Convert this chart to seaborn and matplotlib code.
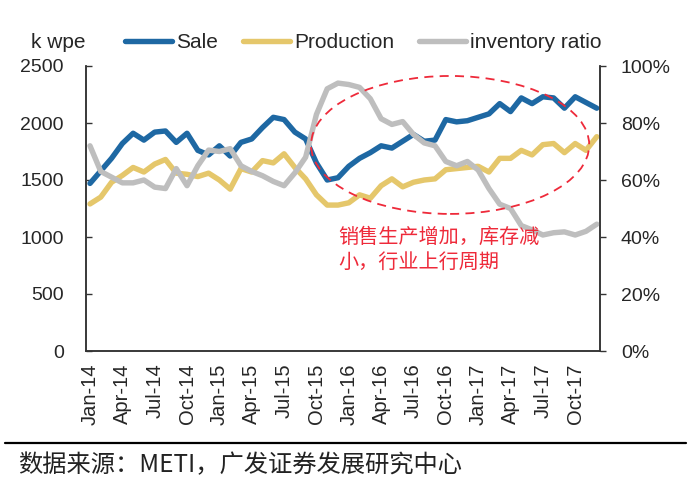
import matplotlib
matplotlib.use("Agg")
import matplotlib.pyplot as plt
from matplotlib.patches import Ellipse
from matplotlib.lines import Line2D
from matplotlib.ticker import FuncFormatter
import seaborn as sns
import pandas as pd

# monthly data, Jan-14 .. Dec-17
sale = [1470, 1580, 1690, 1820, 1910, 1850, 1920, 1930, 1830, 1910, 1760, 1720,
        1800, 1710, 1830, 1860, 1960, 2050, 2030, 1920, 1860, 1650, 1500, 1520,
        1620, 1690, 1740, 1800, 1780, 1840, 1900, 1840, 1850, 2030, 2010, 2020,
        2050, 2080, 2170, 2100, 2220, 2170, 2230, 2220, 2130, 2230, 2180, 2130]
production = [1290, 1350, 1480, 1540, 1610, 1570, 1640, 1680, 1560, 1550, 1530, 1560,
              1500, 1420, 1600, 1570, 1670, 1650, 1730, 1610, 1510, 1370, 1280, 1280,
              1300, 1370, 1340, 1450, 1510, 1440, 1480, 1500, 1510, 1590, 1600, 1610,
              1620, 1570, 1690, 1690, 1760, 1720, 1810, 1820, 1740, 1820, 1760, 1880]
inventory_ratio = [72, 63, 61, 59, 59, 60, 57.5, 57, 64, 58, 65, 70.5,
                   70, 71, 65, 63, 61.5, 59.5, 58, 62.5, 68, 83, 92, 94,
                   93.5, 92.5, 88.5, 81.5, 79.5, 80.5, 76, 73, 72, 66.5, 65, 66.5,
                   63.5, 57, 51.5, 50, 44, 42.5, 40.7, 41.5, 41.8, 40.7, 42, 44.5]
tick_labels = ["Jan-14", "Apr-14", "Jul-14", "Oct-14", "Jan-15", "Apr-15", "Jul-15", "Oct-15",
               "Jan-16", "Apr-16", "Jul-16", "Oct-16", "Jan-17", "Apr-17", "Jul-17", "Oct-17"]
series_names = ["Sale", "Production", "inventory ratio"]
colors = ["#1E68A3", "#E5C76B", "#BEBEBE"]

df = pd.DataFrame({"month": range(len(sale)), "sale": sale,
                   "production": production, "ratio": inventory_ratio})

sns.set_style("white")
plt.rcParams["font.family"] = ["Liberation Sans", "DejaVu Sans"]

W, H = 691, 479
fig = plt.figure(figsize=(W / 100, H / 100), dpi=100)
ax = fig.add_axes([86 / W, 1 - 351 / H, (600 - 86) / W, (351 - 66) / H])
ax2 = ax.twinx()

lw = 3.9
sns.lineplot(data=df, x="month", y="sale", ax=ax, color=colors[0], lw=lw,
             label=series_names[0], legend=False)
sns.lineplot(data=df, x="month", y="production", ax=ax, color=colors[1], lw=lw,
             label=series_names[1], legend=False)
sns.lineplot(data=df, x="month", y="ratio", ax=ax2, color=colors[2], lw=lw,
             label=series_names[2], legend=False)

ax.set_xlim(-0.37, 47.3)
ax.set_ylim(0, 2500)
ax2.set_ylim(0, 100)
ax.set_yticks(range(0, 2501, 500))
ax2.set_yticks(range(0, 101, 20))
ax2.yaxis.set_major_formatter(FuncFormatter(lambda v, p: f"{v:.0f}%"))
ax.set_xticks(range(0, 48, 3))
ax.set_xticklabels(tick_labels, rotation=90)
ax.set_xlabel("")
ax.set_ylabel("")
ax2.set_ylabel("")

spine_col = "#333333"
for a in (ax, ax2):
    a.spines["top"].set_visible(False)
    for s in ("left", "right", "bottom"):
        a.spines[s].set_color(spine_col)
        a.spines[s].set_linewidth(1.1)
ax.tick_params(axis="y", direction="in", length=4, width=1, pad=16, labelsize=14,
               color=spine_col, left=True)
ax2.tick_params(axis="y", direction="out", length=4, width=1, pad=11, labelsize=14,
                color=spine_col, right=True)
ax.tick_params(axis="x", length=0, pad=9, labelsize=14.5)

# legend
handles, labels = ax.get_legend_handles_labels()
h2, l2 = ax2.get_legend_handles_labels()
handles += h2
labels += l2
fig.legend(handles, labels, loc="center left", bbox_to_anchor=(125 / W, 1 - 43 / H),
           ncol=3, frameon=False, fontsize=15, handlelength=2.25, handletextpad=0.2,
           columnspacing=1.2, borderpad=0, borderaxespad=0)
fig.text(31 / W, 1 - 43 / H, "k wpe", fontsize=15, ha="left", va="center")

# annotation
red = "#EE2A3A"
ell = Ellipse((33.4, 72.3), width=25.8, height=48.4, fill=False, edgecolor=red,
              linestyle=(0, (5, 3.5)), lw=1.3, zorder=10)
ax2.add_patch(ell)
cjk = ["Noto Sans CJK SC", "DejaVu Sans"]
ax2.text(23.0, (351 - 237) / 2.85, "销售生产增加，库存减", color=red, fontsize=14.5,
         family=cjk, ha="left", va="center", zorder=11)
ax2.text(23.0, (351 - 262) / 2.85, "小，行业上行周期", color=red, fontsize=14.5,
         family=cjk, ha="left", va="center", zorder=11)

# source line
fig.add_artist(Line2D([5 / W, 686 / W], [1 - 443 / H] * 2, transform=fig.transFigure,
                      color="black", lw=1.6))
fig.text(18 / W, 1 - 465 / H, "数据来源：METI，广发证券发展研究中心", fontsize=17.5,
         family=cjk, ha="left", va="center", color="#222222")

fig.savefig("out.png", dpi=100)
